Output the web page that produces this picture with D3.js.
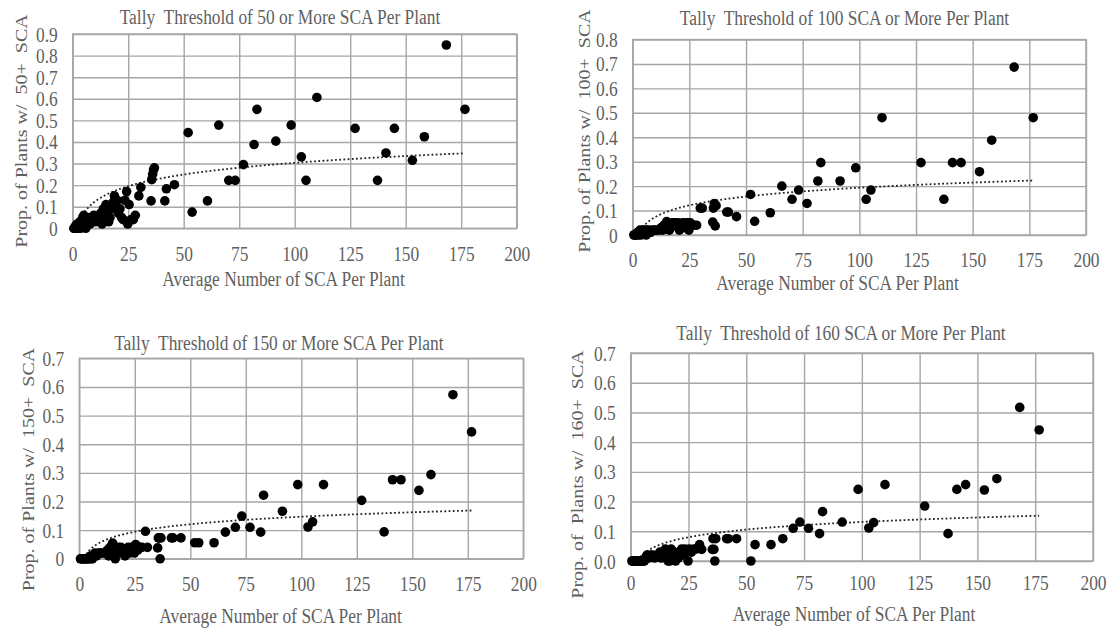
<!DOCTYPE html>
<html>
<head>
<meta charset="utf-8">
<script src="https://cdn.jsdelivr.net/npm/d3@7"></script>
<style>
body { margin: 0; background: #fff; }
text { font-family: "Liberation Serif", "Times New Roman", serif; fill: #5f5f5f; white-space: pre; }
</style>
</head>
<body>
<div id="chart"></div>
<script>
// average number of SCA per plant (shared x for all four panels)
const avgSca = [0.5, 0.9, 1.2, 1.6, 2.0, 2.4, 2.8, 3.2, 3.6, 4.0, 4.5, 5.0, 5.4, 5.9, 6.3, 7.0, 7.8, 8.6, 9.5, 10.3,
	11.5, 12.6, 13.2, 13.8, 14.4, 15.0, 15.6, 16.2, 16.8, 17.5, 18.2, 18.8, 19.4, 20.0, 20.6, 21.3, 22.0, 22.7, 23.5, 24.3,
	24.8, 25.4, 26.3, 27.3, 28.2, 29.8, 30.7, 35.3, 35.6, 36.0, 36.4, 36.8, 41.5, 42.2, 45.8, 52.0, 53.8, 60.7, 65.8, 70.3,
	73.2, 76.9, 81.7, 83.0, 91.5, 98.4, 103.0, 105.1, 110.0, 127.2, 137.3, 141.1, 144.9, 153.0, 158.4, 168.3, 176.7];

const prop50 = [0, 0, 0.01, 0, 0.02, 0, 0.02, 0.03, 0, 0.02, 0.05, 0.06, 0.04, 0, 0.03, 0.05, 0.02, 0.04, 0.06, 0.03,
	0.04, 0.07, 0.02, 0.09, 0.05, 0.11, 0.08, 0.03, 0.05, 0.09, 0.12, 0.15, 0.11, 0.13, 0.07, 0.09, 0.05, 0.04, 0.13, 0.17,
	0.02, 0.11, 0.04, 0.04, 0.06, 0.15, 0.19, 0.127, 0.225, 0.25, 0.27, 0.28, 0.127, 0.183, 0.202, 0.443, 0.075, 0.127, 0.478, 0.222,
	0.222, 0.295, 0.388, 0.551, 0.404, 0.478, 0.331, 0.222, 0.606, 0.463, 0.222, 0.349, 0.463, 0.315, 0.424, 0.849, 0.551];

const prop100 = [0, 0, 0, 0, 0.01, 0, 0.01, 0.02, 0, 0.01, 0.02, 0.02, 0.01, 0, 0.02, 0.02, 0.01, 0.02, 0.02, 0.02,
	0.02, 0.03, 0.02, 0.04, 0.03, 0.055, 0.04, 0.02, 0.03, 0.05, 0.05, 0.05, 0.04, 0.05, 0.02, 0.04, 0.05, 0.03, 0.05, 0.05,
	0.02, 0.05, 0.04, 0.04, 0.04, 0.11, 0.11, 0.053, 0.11, 0.129, 0.037, 0.12, 0.094, 0.094, 0.075, 0.166, 0.056, 0.091, 0.20, 0.146,
	0.184, 0.129, 0.221, 0.296, 0.221, 0.275, 0.146, 0.184, 0.48, 0.296, 0.146, 0.296, 0.296, 0.259, 0.388, 0.687, 0.48];

const prop150 = [0, 0, 0, 0, 0, 0, 0, 0, 0, 0, 0, 0.01, 0, 0, 0.01, 0.02, 0.01, 0.02, 0.02, 0.02,
	0.02, 0.03, 0.01, 0.04, 0.02, 0.055, 0.03, 0, 0.02, 0.04, 0.03, 0.04, 0.02, 0.03, 0.01, 0.03, 0.04, 0.02, 0.04, 0.04,
	0.02, 0.05, 0.03, 0.04, 0.04, 0.096, 0.04, 0.038, 0.073, 0.073, 0, 0.073, 0.073, 0.073, 0.073, 0.056, 0.056, 0.056, 0.093, 0.11,
	0.149, 0.11, 0.093, 0.222, 0.166, 0.259, 0.111, 0.129, 0.259, 0.204, 0.094, 0.276, 0.276, 0.239, 0.294, 0.573, 0.443];

const prop160 = [0, 0, 0, 0, 0, 0, 0, 0, 0, 0, 0, 0, 0, 0, 0.01, 0.02, 0.01, 0.02, 0.02, 0.01,
	0.02, 0.03, 0.01, 0.03, 0.02, 0.04, 0.03, 0, 0, 0.04, 0.02, 0.03, 0, 0.02, 0.01, 0.03, 0.04, 0.02, 0.04, 0.03,
	0, 0.04, 0.03, 0.04, 0.04, 0.055, 0.039, 0.039, 0.075, 0.039, 0, 0.075, 0.075, 0.075, 0.075, 0, 0.055, 0.055, 0.075, 0.11,
	0.131, 0.11, 0.092, 0.166, 0.131, 0.241, 0.111, 0.129, 0.257, 0.185, 0.092, 0.241, 0.257, 0.239, 0.277, 0.517, 0.441];

// logarithmic trend lines, y = a*ln(x) + b
const trendA = [0.078, 0.052, 0.038, 0.037];
const trendB = [-0.056, -0.046, -0.028, -0.039];

const xTicks = [0, 25, 50, 75, 100, 125, 150, 175, 200];
const yMax = [0.9, 0.8, 0.7, 0.7];
const titles = [
	"Tally  Threshold of 50 or More SCA Per Plant",
	"Tally  Threshold of 100 SCA or More Per Plant",
	"Tally  Threshold of 150 or More SCA Per Plant",
	"Tally  Threshold of 160 SCA or More Per Plant"
];
const yTitles = [
	"Prop. of Plants w/  50+  SCA",
	"Prop. of Plants w/  100+  SCA",
	"Prop. of Plants w/  150+  SCA",
	"Prop. of  Plants w/  160+  SCA"
];
const xTitle = "Average Number of SCA Per Plant";

// layout of each panel
const panels = [
	{ l: 72.7, r: 516.7, t: 34, b: 228.3, tx: 280, ty: 17, yx: 20.7, yy: 131, xx: 283.5, xy: 279, off: 25.5, fmt: "0" },
	{ l: 632.7, r: 1086, t: 39.5, b: 235, tx: 844.5, ty: 18, yx: 584.3, yy: 131, xx: 837.5, xy: 283, off: 25, fmt: "0" },
	{ l: 79.3, r: 523.3, t: 358.3, b: 558.8, tx: 278.8, ty: 343, yx: 27.5, yy: 469.5, xx: 280.6, xy: 616, off: 25, fmt: "0" },
	{ l: 630.7, r: 1093, t: 353, b: 561, tx: 841, ty: 333, yx: 577, yy: 474.5, xx: 854, xy: 614, off: 22.5, fmt: "0.0" }
];
const series = [prop50, prop100, prop150, prop160];

const SX = 0.87;      // text in the picture is squeezed horizontally
const FS = 20;
const GRID = "#a6a6a6";

const svg = d3.select("#chart").append("svg")
	.attr("width", 1109).attr("height", 629);

function label(txt, x, y, rotate) {
	svg.append("text")
		.attr("transform", "translate(" + x + "," + y + ") scale(" + SX + ",1)" + (rotate ? " rotate(-90)" : ""))
		.attr("text-anchor", "middle")
		.attr("dy", "0.35em")
		.style("font-size", FS + "px")
		.text(txt);
}

function drawPanel(i) {
	const p = panels[i];
	const ys = series[i];
	const w = p.r - p.l, h = p.b - p.t;

	const x = d3.scaleLinear().domain([0, 200]).range([0, w]);
	const y = d3.scaleLinear().domain([0, yMax[i]]).range([h, 0]);
	const yTicks = d3.range(0, Math.round(yMax[i] * 10) + 1).map(d => d / 10);

	const g = svg.append("g").attr("transform", "translate(" + p.l + "," + p.t + ")");

	svg.append("clipPath").attr("id", "clip" + i)
		.append("rect").attr("x", 0).attr("y", 0).attr("width", w).attr("height", h);

	// grid via axes
	const gx = g.append("g").attr("transform", "translate(0," + h + ")")
		.call(d3.axisBottom(x).tickValues(xTicks).tickSize(-h).tickPadding(0).tickFormat(d3.format("d")));
	const gy = g.append("g")
		.call(d3.axisLeft(y).tickValues(yTicks).tickSize(-w).tickPadding(0)
			.tickFormat(d => (d === 0 && p.fmt === "0") ? "0" : d3.format(".1f")(d)));

	[gx, gy].forEach(a => {
		a.select(".domain").remove();
		a.selectAll(".tick line").attr("stroke", GRID).attr("stroke-width", 1.4);
		a.selectAll("text").attr("fill", "#5f5f5f").style("font-size", FS + "px")
			.attr("font-family", null);
	});
	gx.selectAll("text").attr("y", p.off).attr("dy", "0.35em")
		.attr("transform", "scale(" + SX + ",1)");
	gy.selectAll("text").attr("x", -15 / SX).attr("dy", "0.35em")
		.attr("transform", "scale(" + SX + ",1)");

	g.append("rect").attr("width", w).attr("height", h)
		.attr("fill", "none").attr("stroke", GRID).attr("stroke-width", 1.4);

	// trend line
	const xs = d3.extent(avgSca);
	const tr = d3.range(0, 201).map(k => xs[0] + (xs[1] - xs[0]) * k / 200);
	g.append("path")
		.attr("clip-path", "url(#clip" + i + ")")
		.datum(tr)
		.attr("fill", "none")
		.attr("stroke", "#222")
		.attr("stroke-width", 1.8)
		.attr("stroke-dasharray", "1.8,2.4")
		.attr("d", d3.line().x(d => x(d)).y(d => y(trendA[i] * Math.log(d) + trendB[i])));

	// points
	g.append("g").selectAll("circle")
		.data(avgSca.map((v, k) => [v, ys[k]]))
		.join("circle")
		.attr("cx", d => x(d[0]))
		.attr("cy", d => y(d[1]))
		.attr("r", 4.8)
		.attr("fill", "#000");

	label(titles[i], p.tx, p.ty, false);
	label(xTitle, p.xx, p.xy, false);
	label(yTitles[i], p.yx, p.yy, true);
}

for (let i = 0; i < 4; i++) drawPanel(i);
</script>
</body>
</html>
